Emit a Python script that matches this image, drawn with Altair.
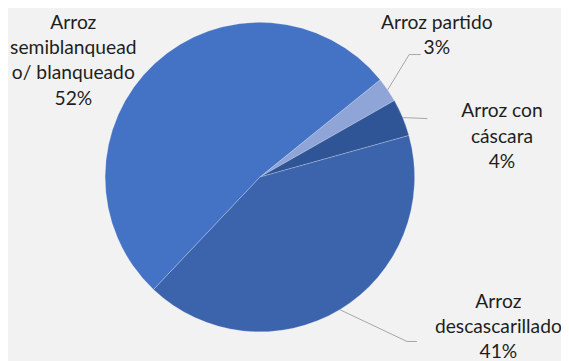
import altair as alt
import pandas as pd
import math

categories = ["Arroz partido", "Arroz con cáscara", "Arroz descascarillado", "Arroz semiblanqueado/ blanqueado"]
values = [2.6, 3.9, 41.4, 52.1]
label_text = ["Arroz partido\n3%", "Arroz con\ncáscara\n4%", "Arroz\ndescascarillado\n41%", "Arroz\nsemiblanquead\no/ blanqueado\n52%"]
colors = ["#8FA5D8", "#2F5597", "#3C64AC", "#4472C4"]

df = pd.DataFrame({"cat": categories, "val": values, "label": label_text, "order": list(range(len(categories)))})

TOTAL = sum(values)
START = 51.0  # degrees, clockwise from 12 o'clock
R = 157
W, H = 511, 338

theta_range = [math.radians(START), math.radians(START) + 2 * math.pi]

pie = alt.Chart(df).mark_arc(outerRadius=R, stroke="#FFFFFF", strokeWidth=0.4, strokeOpacity=0.6).encode(
    theta=alt.Theta("val:Q", stack=True, scale=alt.Scale(range=theta_range)),
    order=alt.Order("order:Q"),
    color=alt.Color("cat:N", scale=alt.Scale(domain=categories, range=colors), legend=None),
)

# shared base for labels / leaders: mid-angle of each slice computed from the data
mid_base = alt.Chart(df).transform_window(
    cum="sum(val)", sort=[alt.SortField("order")], frame=[None, 0]
).transform_calculate(
    mid="datum.cum - datum.val / 2",
    ang=f"{math.radians(START)} + 2 * PI * (datum.cum - datum.val / 2) / {TOTAL}",
).transform_calculate(
    ex=f"sin(datum.ang) * {R}",
    ey=f"-cos(datum.ang) * {R}",
)

theta_mid_scale = alt.Scale(domain=[0, TOTAL], range=theta_range)

# label offsets (style) of the first text line relative to the slice's edge midpoint
offsets = {
    "Arroz partido": (49.8, -67.9),
    "Arroz con cáscara": (100.7, -6.4),
    "Arroz descascarillado": (160.9, -8.1),
    "Arroz semiblanqueado/ blanqueado": (-82.6, -41.3),
}

layers = [pie]
for c in categories:
    dx, dy = offsets[c]
    layers.append(
        mid_base.transform_filter(alt.datum.cat == c).mark_text(
            radius=R, dx=dx, dy=dy, font="Lato", fontSize=19.5, lineHeight=25.7,
            lineBreak="\n", align="center", baseline="middle", color="#1E1E1E"
        ).encode(
            theta=alt.Theta("mid:Q", stack=None, scale=theta_mid_scale),
            text="label:N",
        )
    )

# leader line elbows (style): (elbow dx, elbow dy, end dx) relative to slice edge midpoint
leaders = {
    "Arroz partido": (21.8, -35.8, 33.5),
    "Arroz con cáscara": (25.0, 1.0, 25.0),
    "Arroz descascarillado": (68.3, 32.3, 78.3),
}

xs = alt.Scale(domain=[-W / 2, W / 2], range=[0, W])
ys = alt.Scale(domain=[-H / 2, H / 2], range=[0, H])
for c, (bx, by, endx) in leaders.items():
    seg = mid_base.transform_filter(alt.datum.cat == c).transform_calculate(
        bx=f"datum.ex + {bx}", by=f"datum.ey + {by}", endx=f"datum.ex + {endx}"
    )
    layers.append(
        seg.mark_rule(color="#A6A6A6", strokeWidth=1).encode(
            x=alt.X("ex:Q", scale=xs, axis=None),
            y=alt.Y("ey:Q", scale=ys, axis=None),
            x2="bx:Q",
            y2="by:Q",
        )
    )
    layers.append(
        seg.mark_rule(color="#A6A6A6", strokeWidth=1).encode(
            x=alt.X("bx:Q", scale=xs, axis=None),
            y=alt.Y("by:Q", scale=ys, axis=None),
            x2="endx:Q",
            y2="by:Q",
        )
    )

chart = alt.layer(*layers).resolve_scale(x="shared", y="shared").properties(
    width=W, height=H,
    padding={"left": 0, "top": 0, "right": 50, "bottom": 15},
    autosize=alt.AutoSizeParams(type="none"),
    background="#F2F2F2",
).configure_view(stroke=None)

chart.save("out.html", embed_options={"renderer": "svg", "actions": False})
